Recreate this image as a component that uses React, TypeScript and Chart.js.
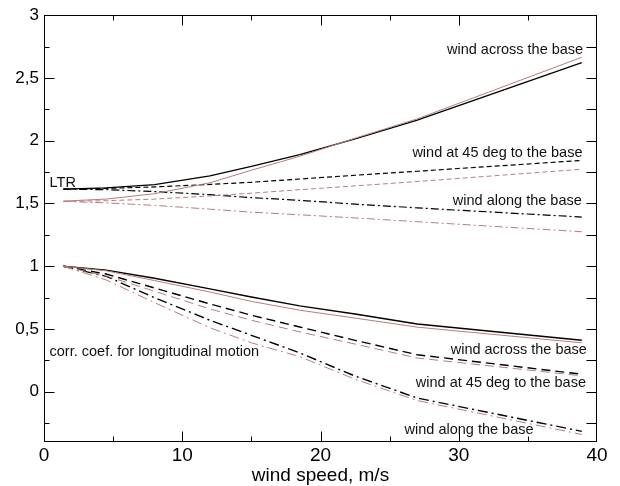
import React, { useEffect, useRef } from 'react';
import { Chart, registerables } from 'chart.js';

Chart.register(...registerables);

// wind speed, m/s
const windSpeed = [1.4, 4.5, 8, 12, 15, 18.5, 22.5, 27, 38.9];

// LTR (upper group)
const ltrAcrossBlack = [1.615, 1.625, 1.65, 1.72, 1.795, 1.89, 2.015, 2.165, 2.623];
const ltrAcrossRed = [1.519, 1.535, 1.578, 1.665, 1.765, 1.876, 2.02, 2.174, 2.665];
const ltr45Black = [1.615, 1.62, 1.632, 1.652, 1.669, 1.695, 1.725, 1.757, 1.843];
const ltr45Red = [1.517, 1.522, 1.535, 1.56, 1.582, 1.61, 1.64, 1.675, 1.773];
const ltrAlongBlack = [1.615, 1.61, 1.595, 1.57, 1.547, 1.525, 1.495, 1.465, 1.392];
const ltrAlongRed = [1.517, 1.505, 1.485, 1.455, 1.431, 1.41, 1.385, 1.355, 1.275];

// correlation coefficient for longitudinal motion (lower group)
const corrAcrossBlack = [1.0, 0.969, 0.904, 0.82, 0.755, 0.684, 0.62, 0.54, 0.41];
const corrAcrossRed = [1.0, 0.964, 0.886, 0.795, 0.72, 0.65, 0.587, 0.515, 0.39];
const corr45Black = [1.0, 0.938, 0.827, 0.7, 0.61, 0.516, 0.41, 0.295, 0.14];
const corr45Red = [1.0, 0.922, 0.801, 0.66, 0.57, 0.477, 0.38, 0.269, 0.127];
const corrAlongBlack = [1.0, 0.92, 0.749, 0.57, 0.45, 0.31, 0.125, -0.05, -0.315];
const corrAlongRed = [1.0, 0.891, 0.71, 0.51, 0.39, 0.28, 0.1, -0.07, -0.34];

const xTickValues = [0, 10, 20, 30, 40];
const yTickValues = [0, 0.5, 1, 1.5, 2, 2.5, 3];

const annotations = [
  { text: 'LTR', x: 0.4, y: 1.63, align: 'left' },
  { text: 'wind across the base', x: 39.0, y: 2.687, align: 'right' },
  { text: 'wind at 45 deg to the base', x: 38.95, y: 1.871, align: 'right' },
  { text: 'wind along the base', x: 38.9, y: 1.488, align: 'right' },
  { text: 'corr. coef. for longitudinal motion', x: 0.4, y: 0.282, align: 'left' },
  { text: 'wind across the base', x: 39.27, y: 0.303, align: 'right' },
  { text: 'wind at 45 deg to the base', x: 39.2, y: 0.036, align: 'right' },
  { text: 'wind along the base', x: 35.41, y: -0.34, align: 'right' },
];

const BLACK = '#000000';
const RED = '#b97b7b';
const FONT = "'Liberation Sans', Arial, sans-serif";

const pts = (ys: number[]) => windSpeed.map((x, i) => ({ x, y: ys[i] }));

const series = [
  { data: ltrAcrossRed, color: RED, width: 1, dash: [] as number[] },
  { data: ltr45Red, color: RED, width: 1, dash: [5, 3] },
  { data: ltrAlongRed, color: RED, width: 1, dash: [8, 3, 2, 3] },
  { data: corrAcrossRed, color: RED, width: 1, dash: [] as number[] },
  { data: corr45Red, color: RED, width: 1, dash: [9, 5] },
  { data: corrAlongRed, color: RED, width: 1, dash: [10, 4, 2, 4] },
  { data: ltrAcrossBlack, color: BLACK, width: 1.3, dash: [] as number[] },
  { data: ltr45Black, color: BLACK, width: 1.2, dash: [5, 3] },
  { data: ltrAlongBlack, color: BLACK, width: 1.2, dash: [8, 3, 2, 3] },
  { data: corrAcrossBlack, color: BLACK, width: 1.4, dash: [] as number[] },
  { data: corr45Black, color: BLACK, width: 1.4, dash: [9, 5] },
  { data: corrAlongBlack, color: BLACK, width: 1.4, dash: [10, 4, 2, 4] },
];

const framePlugin = {
  id: 'frameTicksText',
  afterDraw(chart: any) {
    const { ctx, chartArea, scales } = chart;
    const { left, right, top, bottom } = chartArea;
    const xs = scales.x;
    const ys = scales.y;
    ctx.save();
    ctx.strokeStyle = '#000';
    ctx.lineWidth = 1;
    ctx.setLineDash([]);
    const L = Math.round(left) + 0.5;
    const R = Math.round(right) - 0.5;
    const T = Math.round(top) + 0.5;
    const B = Math.round(bottom) - 0.5;
    ctx.strokeRect(L, T, R - L, B - T);
    ctx.beginPath();
    for (let v = 5; v < 40; v += 5) {
      const px = Math.round(xs.getPixelForValue(v)) + 0.5;
      const len = v % 10 === 0 ? 10 : 5;
      ctx.moveTo(px, B);
      ctx.lineTo(px, B - len);
      ctx.moveTo(px, T);
      ctx.lineTo(px, T + len);
    }
    for (let k = -1; k < 12; k++) {
      const v = k * 0.25;
      const py = Math.round(ys.getPixelForValue(v)) + 0.5;
      const len = k % 2 === 0 ? 10 : 5;
      ctx.moveTo(L, py);
      ctx.lineTo(L + len, py);
      ctx.moveTo(R, py);
      ctx.lineTo(R - 10, py);
    }
    ctx.stroke();

    ctx.fillStyle = '#111';
    ctx.font = `14.5px ${FONT}`;
    ctx.textBaseline = 'alphabetic';
    for (const a of annotations) {
      ctx.textAlign = a.align as CanvasTextAlign;
      ctx.fillText(a.text, xs.getPixelForValue(a.x), ys.getPixelForValue(a.y));
    }
    ctx.restore();
  },
};

export default function App() {
  const ref = useRef<HTMLCanvasElement | null>(null);
  useEffect(() => {
    if (!ref.current) return;
    const chart = new Chart(ref.current, {
      type: 'line',
      data: {
        datasets: series.map((s) => ({
          data: pts(s.data),
          borderColor: s.color,
          borderWidth: s.width,
          borderDash: s.dash,
          pointRadius: 0,
          tension: 0,
          fill: false,
        })),
      },
      options: {
        animation: false,
        responsive: true,
        maintainAspectRatio: false,
        layout: { padding: { top: 5, right: 23, left: 0, bottom: 0 } },
        plugins: { legend: { display: false }, tooltip: { enabled: false } },
        scales: {
          x: {
            type: 'linear',
            min: 0,
            max: 40,
            grid: { display: false, drawTicks: false },
            border: { display: false },
            afterBuildTicks: (s: any) => {
              s.ticks = xTickValues.map((value) => ({ value }));
            },
            afterFit: (s: any) => {
              s.height = 44;
            },
            ticks: {
              color: '#000',
              padding: 2,
              maxRotation: 0,
              font: { family: FONT, size: 19 },
              callback: (v: any) => String(v),
            },
            title: {
              display: true,
              text: 'wind speed, m/s',
              color: '#000',
              font: { family: FONT, size: 19, lineHeight: 1.0 },
              padding: { top: 0, bottom: 0.5 },
            },
          },
          y: {
            type: 'linear',
            min: -0.4,
            max: 3,
            grid: { display: false, drawTicks: false },
            border: { display: false },
            afterBuildTicks: (s: any) => {
              s.ticks = yTickValues.map((value) => ({ value }));
            },
            afterFit: (s: any) => {
              s.width = 44;
            },
            ticks: {
              color: '#000',
              padding: 5,
              font: { family: FONT, size: 17 },
              callback: (v: any) => String(v).replace('.', ','),
            },
          },
        },
      },
      plugins: [framePlugin],
    });
    return () => chart.destroy();
  }, []);

  return (
    <div style={{ position: 'absolute', left: 0, top: 0, width: 620, height: 486, background: '#fff' }}>
      <canvas ref={ref} />
    </div>
  );
}
